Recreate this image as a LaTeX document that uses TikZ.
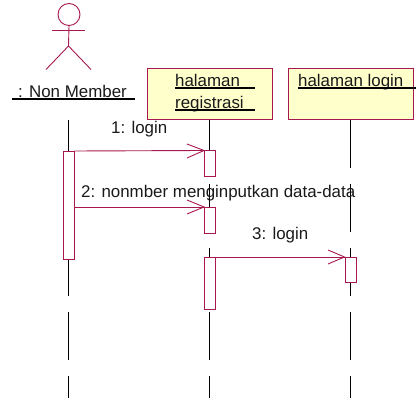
\documentclass[tikz,border=0pt]{standalone}
\usepackage{fontspec}
\setmainfont{Liberation Sans}
\definecolor{umlred}{HTML}{A81850}
\definecolor{umlfill}{HTML}{FFFFCC}
\tikzset{
  x=1pt,y=-1pt,
  objbox/.style={draw=umlred,fill=umlfill,line width=1pt,minimum width=125pt,minimum height=51pt,inner sep=0pt,anchor=north west},
  actbox/.style={draw=umlred,fill=white,line width=1pt,minimum width=11pt,inner sep=0pt,anchor=north west},
  lifeline/.style={draw=black,line width=0.9pt},
  actorline/.style={draw=umlred,line width=0.9pt},
  msg/.style={draw=umlred,line width=0.9pt},
  arrowhd/.style={draw=umlred,line width=0.9pt},
  uline/.style={draw=black,line width=1.5pt},
  lbl/.style={font=\fontsize{16.9}{16.9}\selectfont,inner sep=0pt,anchor=base west,text=black!90}
}
\begin{document}
\begin{tikzpicture}
\useasboundingbox (0,0) rectangle (416,398);
% actor
\node[actorline,circle,minimum size=22pt,inner sep=0pt] (head) at (69,14.5) {};
\coordinate (armL) at (52,30.5);
\coordinate (armR) at (85,30.5);
\coordinate (hip) at (68.5,46);
\coordinate (legL) at (46,69.5);
\coordinate (legR) at (91,69.5);
\draw[actorline] (head.south) -- (hip);
\draw[actorline] (armL) -- (armR);
\draw[actorline] (legL) -- (hip) -- (legR);
% object boxes
\node[objbox] (reg) at (146.5,68) {};
\node[objbox] (log) at (287.5,68) {};
% labels with underlines
\node[lbl] (nm) at (18,98) {: Non Member};
\coordinate (nmA) at (12,99);
\coordinate (nmB) at (135,99);
\draw[uline] (nmA) -- (nmB);
\node[lbl] (rt1) at (175,87) {halaman};
\node[lbl] (rt2) at (175,108.5) {registrasi};
\coordinate (r1A) at (175,88);
\coordinate (r1B) at (255,88);
\coordinate (r2A) at (175,110);
\coordinate (r2B) at (255,110);
\draw[uline] (r1A) -- (r1B);
\draw[uline] (r2A) -- (r2B);
\node[lbl] (lt1) at (298,87) {halaman login};
\coordinate (l1A) at (298,88);
\coordinate (l1B) at (416,88);
\draw[uline] (l1A) -- (l1B);
% lifelines
\foreach \n/\x in {p/68.5,q/209.5,r/350.5}{
  \foreach \i/\y in {a/120.5,b/296.5,c/312.5,d/360.5,e/376.5,f/398}{
    \coordinate (\n\i) at (\x,\y);
  }
}
\coordinate (q1) at (209.5,176);
\coordinate (q2) at (209.5,184);
\coordinate (q3) at (209.5,207);
\coordinate (q4) at (209.5,233);
\coordinate (q5) at (209.5,248.5);
\coordinate (r1) at (350.5,168.5);
\coordinate (r2) at (350.5,184.5);
\coordinate (r3) at (350.5,232.5);
\coordinate (r4) at (350.5,248.5);
% activations
\draw[lifeline] (pa) -- (68.5,151);
\draw[lifeline] (68.5,259) -- (pb);
\draw[lifeline] (pc) -- (pd);
\draw[lifeline] (pe) -- (pf);
\draw[lifeline] (qa) -- (209.5,150);
\draw[lifeline] (q2) -- (q3);
\draw[lifeline] (q5) -- (209.5,257);
\draw[lifeline] (qc) -- (qd);
\draw[lifeline] (qe) -- (qf);
\draw[lifeline] (ra) -- (r1);
\draw[lifeline] (r2) -- (r3);
\draw[lifeline] (r4) -- (350.5,257);
\draw[lifeline] (350.5,282.5) -- (rb);
\draw[lifeline] (rc) -- (rd);
\draw[lifeline] (re) -- (rf);
\node[actbox,minimum height=108pt] (a1) at (62.5,151) {};
\node[actbox,minimum height=26pt] (a2) at (204,150.5) {};
\node[actbox,minimum height=26pt] (a3) at (204,207) {};
\node[actbox,minimum height=52pt] (a4) at (204,257) {};
\node[actbox,minimum height=25.5pt] (a5) at (344.5,257) {};
% messages
\coordinate (m2s) at (a1.east|-a3.north west);
\draw[msg] (a1.north east) -- (a2.north west);
\draw[msg] (m2s) -- (a3.north west);
\draw[msg] (a4.north east) -- (a5.north west);
\draw[arrowhd] (187,144) -- (a2.north west) -- (187,158);
\draw[arrowhd] (187,200) -- (a3.north west) -- (187,214);
\draw[arrowhd] (328,250) -- (a5.north west) -- (328,264);
\node[lbl] (m1) at (111,134) {1: login};
\node[lbl] (m2) at (81,198) {2: nonmber menginputkan data-data};
\node[lbl] (m3) at (252,240) {3: login};
\end{tikzpicture}
\end{document}
